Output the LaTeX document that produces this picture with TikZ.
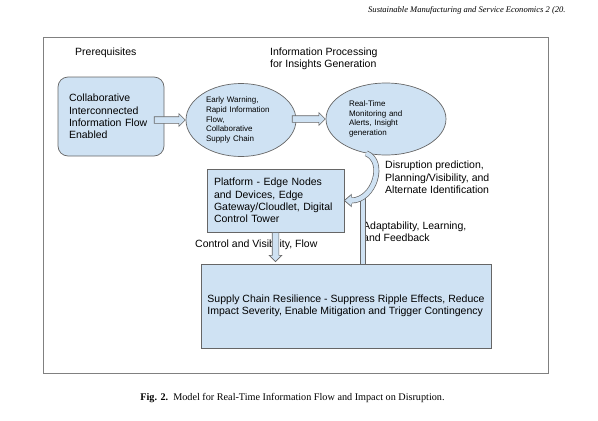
\documentclass[tikz,border=0pt]{standalone}
\usepackage{fontspec}
\setmainfont{Liberation Sans}
\newfontfamily\capfont{Liberation Serif}
\usepackage{tikz}
\usetikzlibrary{shapes.geometric,shapes.arrows,arrows.meta,calc}
\definecolor{paleblue}{HTML}{CFE2F3}
\definecolor{edgegray}{HTML}{666666}
\definecolor{framegray}{HTML}{808080}
\newcommand{\boxfont}{\fontsize{10.5}{12.4}\selectfont}
\newcommand{\ellfont}{\fontsize{8}{9.8}\selectfont}
\tikzset{
  roundbox/.style={rectangle,rounded corners=10pt,draw=edgegray,fill=paleblue,
    minimum width=106pt,minimum height=79pt,text width=84pt,align=left,
    font=\boxfont,inner xsep=11pt,line width=0.7pt},
  infobubble/.style={ellipse,draw=edgegray,fill=paleblue,align=left,
    font=\ellfont,inner sep=0pt,line width=0.7pt},
  platbox/.style={rectangle,draw=edgegray,fill=paleblue,align=left,
    font=\boxfont,inner xsep=7pt,line width=0.7pt},
  blockarrow/.style={single arrow,draw=edgegray,fill=paleblue,inner sep=3pt,
    single arrow head extend=3pt,line width=0.6pt},
  hollowline/.style={draw=edgegray,line width=0.7pt,double=paleblue,
    double distance=4.5pt},
  plainlabel/.style={anchor=west,font=\boxfont,align=left,inner sep=0pt},
}

\begin{document}
\begin{tikzpicture}[x=1pt,y=-1pt]
  \useasboundingbox (0,0) rectangle (598,421);
  % journal line and frame
  \node[anchor=west,inner sep=0pt,font=\capfont\itshape\fontsize{8.55}{9}\selectfont] (journal) at (368,10)
    {Sustainable Manufacturing and Service Economics 2 (20.};
  \draw[framegray,line width=0.8pt] (43,37) rectangle (548,373);

  % headings and labels
  \node[plainlabel] (prereq) at (75,53) {Prerequisites};
  \node[plainlabel] (infoproc) at (270,59) {Information Processing\\for Insights Generation};
  \node[plainlabel] (ctrl) at (195,245) {Control and Visibility, Flow};
  \node[plainlabel] (predict) at (385,177.5) {Disruption prediction,\\Planning/Visibility, and\\Alternate Identification};
  \node[plainlabel] (adapt) at (363,232) {Adaptability, Learning,\\and Feedback};

  % boxes
  \node[roundbox] (collab) at (111,116.5) {Collaborative\\Interconnected\\Information Flow\\Enabled};
  \node[infobubble,minimum width=110pt,minimum height=73pt,text width=70pt] (warn) at (241,120)
    {Early Warning,\\Rapid Information\\Flow,\\Collaborative\\Supply Chain};
  \node[infobubble,minimum width=120pt,minimum height=72pt,text width=74pt] (monitor) at (386,119)
    {Real-Time\\Monitoring and\\Alerts, Insight\\generation};
  \node[platbox,minimum width=137pt,minimum height=63pt,text width=123pt] (platform) at (275.5,200.5)
    {Platform - Edge Nodes\\and Devices, Edge\\Gateway/Cloudlet, Digital\\Control Tower};
  \node[platbox,minimum width=290pt,minimum height=84pt,inner xsep=4pt] (resil) at (346,306)
    {Supply Chain Resilience - Suppress Ripple Effects, Reduce\\Impact Severity, Enable Mitigation and Trigger Contingency};

  % block arrows
  \node[blockarrow,minimum height=31pt,anchor=tip] (toearly) at (warn.west) {};
  \node[blockarrow,minimum height=33pt,anchor=tip] (tomonitor) at (monitor.west) {};
  \node[blockarrow,minimum height=29pt,shape border rotate=270,anchor=tail] (tores) at (platform.south) {};

  % feedback bar and curved arrow
  \coordinate (fbtop) at (363,197);
  \coordinate (headbase) at ($(platform.east)+(7,0)$);
  \draw[hollowline] (resil.north -| fbtop) -- (fbtop);
  \draw[hollowline] (monitor.240) .. controls +(20,8) and +(23,0) .. (headbase);
  \fill[paleblue] (platform.east) -- ($(headbase)+(0.5,-6)$) -- ($(headbase)+(0.5,6)$) -- cycle;
  \draw[edgegray,line width=0.7pt] ($(headbase)+(0,-3)$) -- ($(headbase)+(0,-6)$) -- (platform.east)
    -- ($(headbase)+(0,6)$) -- ($(headbase)+(0,3)$);

  % caption
  \node[font=\capfont\fontsize{10.2}{12}\selectfont] (caption) at (292.5,398)
    {\textbf{Fig. 2.}\enspace Model for Real-Time Information Flow and Impact on Disruption.};
\end{tikzpicture}
\end{document}
